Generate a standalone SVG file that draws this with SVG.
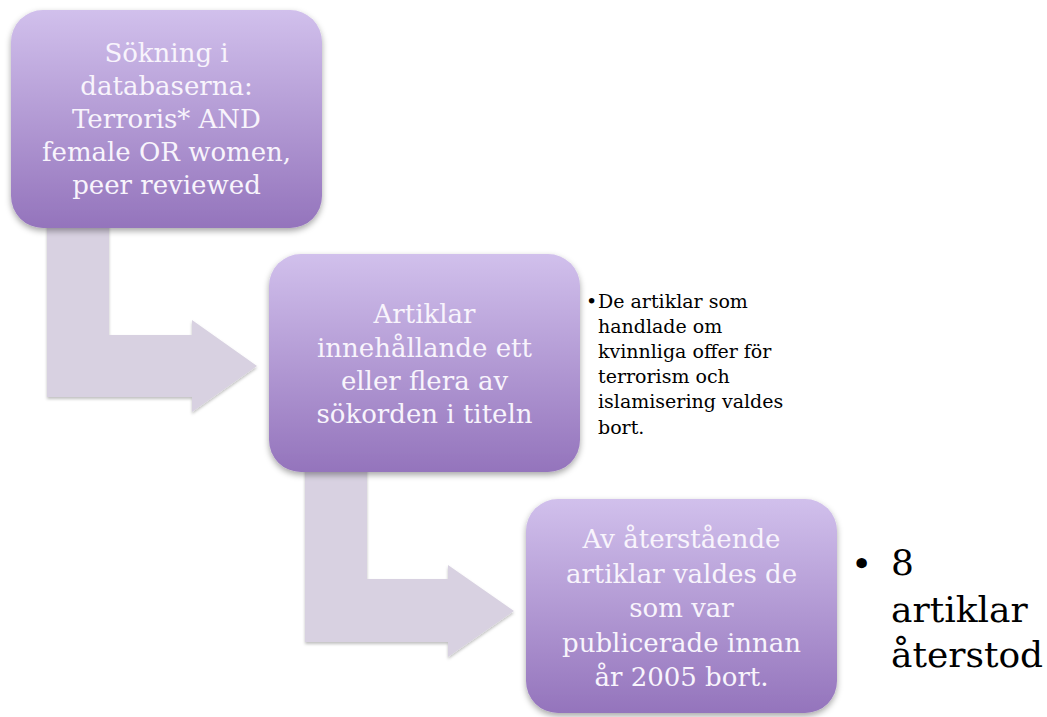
<svg xmlns="http://www.w3.org/2000/svg" width="1047" height="717" viewBox="0 0 1047 717">
  <defs>
    <linearGradient id="boxGrad" x1="0" y1="0" x2="0" y2="1">
      <stop offset="0" stop-color="#D1C0EC"/>
      <stop offset="1" stop-color="#9474BC"/>
    </linearGradient>
    <filter id="shadow" x="-10%" y="-10%" width="120%" height="125%">
      <feDropShadow dx="0" dy="3" stdDeviation="3" flood-color="#000" flood-opacity="0.35"/>
    </filter>
    <filter id="ashadow" x="-10%" y="-10%" width="120%" height="125%">
      <feDropShadow dx="0" dy="2" stdDeviation="1.5" flood-color="#000" flood-opacity="0.25"/>
    </filter>
  </defs>
  <style>
    .box { fill: url(#boxGrad); filter: url(#shadow); }
    .arrow { fill: #D8D1E1; filter: url(#ashadow); }
    .bt { font-family: "DejaVu Serif", "Liberation Serif", serif; font-size: 26px; fill: #F8F4FC; text-anchor: middle; }
    .st { font-family: "DejaVu Serif", "Liberation Serif", serif; font-size: 19px; fill: #000; }
    .lt { font-family: "DejaVu Serif", "Liberation Serif", serif; font-size: 36px; fill: #000; }
  </style>
  <rect width="1047" height="717" fill="#FFFFFF"/>

  <g id="connectors">
    <polygon class="arrow" points="47,215 109,215 109,335 192,335 192,320 257,366 192,412 192,397 47,397"/>
    <polygon class="arrow" points="305,460 367,460 367,579 448,579 448,565 514,611 448,657 448,642 305,642"/>
  </g>

  <g id="node1">
    <rect class="box" x="11" y="10" width="311" height="218" rx="32" ry="32"/>
    <text class="bt" x="166.5" y="62">Sökning i</text>
    <text class="bt" x="166.5" y="95">databaserna:</text>
    <text class="bt" x="166.5" y="128">Terroris* AND</text>
    <text class="bt" x="166.5" y="161">female OR women,</text>
    <text class="bt" x="166.5" y="194">peer reviewed</text>
  </g>

  <g id="node2">
    <rect class="box" x="269" y="254" width="311" height="218" rx="32" ry="32"/>
    <text class="bt" x="424.5" y="323">Artiklar</text>
    <text class="bt" x="424.5" y="357">innehållande ett</text>
    <text class="bt" x="424.5" y="390">eller flera av</text>
    <text class="bt" x="424.5" y="423">sökorden i titeln</text>
  </g>

  <g id="note1">
    <text class="st" x="586" y="308">•</text>
    <text class="st" x="598" y="308">De artiklar som</text>
    <text class="st" x="598" y="333">handlade om</text>
    <text class="st" x="598" y="358">kvinnliga offer för</text>
    <text class="st" x="598" y="383">terrorism och</text>
    <text class="st" x="598" y="408">islamisering valdes</text>
    <text class="st" x="598" y="434">bort.</text>
  </g>

  <g id="node3">
    <rect class="box" x="526" y="499" width="311" height="214" rx="32" ry="32"/>
    <text class="bt" x="681.5" y="548">Av återstående</text>
    <text class="bt" x="681.5" y="583">artiklar valdes de</text>
    <text class="bt" x="681.5" y="617">som var</text>
    <text class="bt" x="681.5" y="652">publicerade innan</text>
    <text class="bt" x="681.5" y="686">år 2005 bort.</text>
  </g>

  <g id="note2">
    <text class="lt" x="851" y="576">•</text>
    <text class="lt" x="891" y="575">8</text>
    <text class="lt" x="891" y="622">artiklar</text>
    <text class="lt" x="891" y="667">återstod</text>
  </g>
</svg>
